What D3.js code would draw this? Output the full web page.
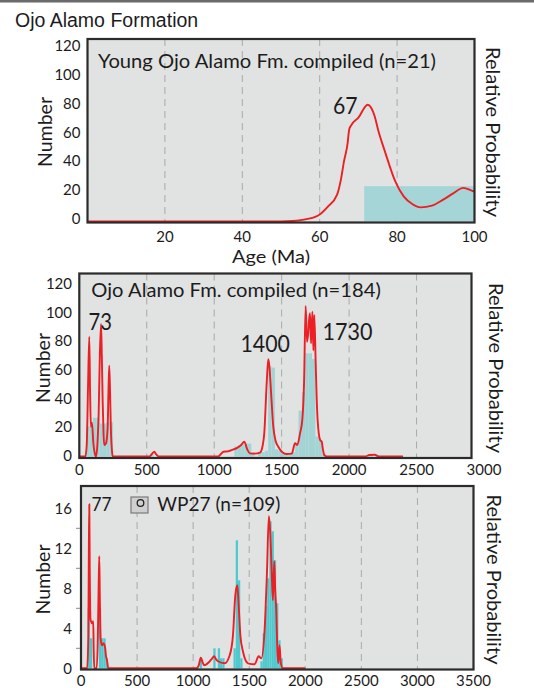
<!DOCTYPE html>
<html><head><meta charset="utf-8">
<script src="https://cdn.jsdelivr.net/npm/d3@7"></script>
<style>
body{margin:0;background:#fff}
svg{display:block}
text{font-family:Lato,"Open Sans",sans-serif;fill:#1c1c1c}
</style>
</head><body><svg id="c" width="534" height="688"></svg>
<script>
// ---------- DATA ----------
const mainTitle = "Ojo Alamo Formation";

// Panel 1: Young Ojo Alamo Fm. compiled (n=21)
const p1Title = "Young Ojo Alamo Fm. compiled (n=21)";
const p1XTicks = [20, 40, 60, 80, 100];
const p1YTicks = [0, 20, 40, 60, 80, 100, 120];
const p1Grid = [20, 40, 60, 80];
const p1CurveAge = [0, 50, 53, 56.6, 60, 62, 64.5, 65.4, 66.3, 67.2, 67.6, 68.0, 70, 72.4, 74.2, 75.1, 76.8, 79.5, 81.7, 84, 86.1, 89, 91.8, 94.5, 97.1, 99.7, 100];
const p1CurveVal = [0, 0, 0.3, 1.6, 4.9, 10, 18.6, 28, 42, 54, 63.5, 66.2, 72, 81, 73, 63.5, 49, 28, 17.4, 12, 9.8, 11, 15, 19.5, 23.3, 21, 20.8];
const p1BinStart = [71.5];
const p1BinEnd = [100];
const p1BinCount = [24.5];
const p1PeakLabel = "67";

// Panel 2: Ojo Alamo Fm. compiled (n=184)
const p2Title = "Ojo Alamo Fm. compiled (n=184)";
const p2XTicks = [0, 500, 1000, 1500, 2000, 2500, 3000];
const p2YTicks = [0, 20, 40, 60, 80, 100, 120];
const p2Grid = [500, 1000, 1500, 2000, 2500];
const p2CurveAge = [0, 45, 55, 65, 74, 80, 86, 94, 104, 115, 124, 134, 144, 152, 161, 167, 173, 180, 185, 198, 210, 216, 222, 228, 235, 242, 248, 520, 540, 556, 570, 590, 1030, 1043, 1068, 1100, 1130, 1170, 1200, 1223, 1245, 1265, 1300, 1340, 1360, 1371, 1389, 1401, 1410, 1419, 1438, 1455, 1475, 1505, 1537, 1575, 1599, 1616, 1636, 1653, 1666, 1678, 1688, 1697, 1704, 1710, 1718, 1728, 1735, 1742, 1753, 1760, 1767, 1785, 1797, 1806, 1816, 1834, 2120, 2150, 2190, 2220, 2400];
const p2CurveVal = [0, 0, 8, 50, 83.6, 45, 20.8, 23.6, 9.4, 2, 0, 8, 32, 70, 92.5, 70, 39.4, 15, 8, 9.2, 20, 45, 63.4, 45, 16, 4, 0, 0, 2, 3.3, 1.5, 0, 0, 1, 3.3, 3.6, 4.5, 6, 8, 10.3, 5, 2.2, 2, 2.7, 8, 16, 51, 67.8, 62, 48.7, 20.8, 11, 6.8, 3, 1.7, 2, 9.2, 8, 16, 25.5, 51, 105, 80, 86, 96, 100, 79, 101, 74, 98.7, 62.7, 40, 25, 11.5, 10.3, 5, 1, 0, 0, 1, 1.2, 0, 0];
const p2BinWidth = 25;
const p2BinStart = [50, 75, 100, 125, 150, 175, 200, 225, 525, 1150, 1175, 1200, 1225, 1250, 1275, 1325, 1350, 1375, 1400, 1425, 1450, 1475, 1500, 1525, 1550, 1575, 1600, 1625, 1650, 1675, 1700, 1725, 1750, 1775, 1800, 2150];
const p2BinCount = [21, 21, 27, 27, 23, 23, 24, 24, 2, 7, 8, 9, 9, 9, 3, 3, 3, 4, 63, 62, 5, 4, 2, 2, 2, 3, 8, 32, 45, 72, 72, 68, 14, 11, 2, 1];
const p2PeakLabels = ["73", "1400", "1730"];

// Panel 3: WP27 (n=109)
const p3Title = "WP27 (n=109)";
const p3XTicks = [0, 500, 1000, 1500, 2000, 2500, 3000, 3500];
const p3YTicks = [0, 4, 8, 12, 16];
const p3MinorTicks = [2, 6, 10, 14];
const p3Grid = [500, 1000, 1500, 2000, 2500, 3000];
const p3CurveAge = [0, 55, 65, 70, 74, 78, 84, 89, 100, 109, 113, 118, 140, 150, 157, 163, 168, 175, 187, 200, 210, 216, 222, 232, 243, 1029, 1050, 1068, 1085, 1097, 1140, 1170, 1186, 1205, 1222, 1281, 1326, 1355, 1376, 1394, 1406, 1421, 1444, 1489, 1548, 1584, 1608, 1637, 1658, 1675, 1688, 1699, 1711, 1723, 1732, 1741, 1750, 1759, 1770, 1782, 1800, 2000];
const p3CurveVal = [0, 0, 3, 12, 16.4, 10, 5, 4.7, 4.5, 4.7, 2, 0, 0, 3, 8, 11.2, 7, 3, 2.3, 2.5, 2.3, 2.0, 1.3, 0.8, 0, 0, 0.3, 1.06, 0.6, 0.3, 0.6, 1.0, 1.2, 0.9, 0.7, 0.5, 1.3, 3.3, 7.3, 8.3, 6.3, 3.3, 1.7, 0.5, 0.4, 1.2, 1.0, 3.8, 9.5, 15.2, 13.5, 10.2, 6.8, 10.7, 7.8, 5.8, 2.2, 0.5, 2.3, 0.5, 0, 0];
const p3BinWidth = 20;
const p3BinStart = [60, 80, 160, 180, 200, 220, 1060, 1180, 1220, 1240, 1260, 1360, 1380, 1400, 1420, 1600, 1620, 1640, 1660, 1680, 1700, 1720, 1740, 1760, 1780];
const p3BinCount = [6, 3, 6, 3, 3, 1, 1, 2, 2, 1, 1, 2, 12.8, 8.8, 1, 0.7, 3.5, 6.2, 9, 14.7, 13.7, 10.8, 6.5, 2.8, 1];
const p3PeakLabel = "77";

const yAxisTitle = "Number";
const rightAxisTitle = "Relative Probability";
const xAxisTitle1 = "Age (Ma)";

// ---------- DRAW ----------
const svg = d3.select("#c");
const RED = "#ec1f24", GRID = "#a9a9a9", PLOT_BG = "#e1e2e2", FRAME = "#2b2b2b";

svg.append("rect").attr("x", 0).attr("y", 0).attr("width", 534).attr("height", 2.5).attr("fill", "#6a6a6a");
svg.append("text").attr("x", 15).attr("y", 27).style("font-family", "'Liberation Sans',Arial,sans-serif")
  .style("font-size", "19.5px").text(mainTitle);

function drawPanel(cfg) {
  const g = svg.append("g");
  const x = d3.scaleLinear().domain(cfg.xDomain).range(cfg.xRange);
  const y = d3.scaleLinear().domain(cfg.yDomain).range(cfg.yRange);
  const [bl, bt, br, bb] = cfg.box;
  const clipId = "clip" + cfg.id;
  svg.append("defs").append("clipPath").attr("id", clipId)
    .append("rect").attr("x", bl).attr("y", bt).attr("width", br - bl).attr("height", bb - bt);

  g.append("rect").attr("x", bl).attr("y", bt).attr("width", br - bl).attr("height", bb - bt).attr("fill", PLOT_BG);

  const inner = g.append("g").attr("clip-path", `url(#${clipId})`);
  inner.selectAll("line.grid").data(cfg.grid).join("line")
    .attr("x1", d => x(d)).attr("x2", d => x(d)).attr("y1", bt).attr("y2", bb)
    .attr("stroke", GRID).attr("stroke-width", 1).attr("stroke-dasharray", "7,5");

  inner.selectAll("rect.bar").data(cfg.bins).join("rect")
    .attr("x", d => x(d.s)).attr("width", d => x(d.e) - x(d.s))
    .attr("y", d => y(d.c)).attr("height", d => y(0) - y(d.c))
    .attr("fill", cfg.barColor);

  const line = d3.line().x(d => x(d[0])).y(d => y(d[1])).curve(d3.curveMonotoneX);
  inner.append("path").datum(cfg.curve).attr("d", line)
    .attr("fill", "none").attr("stroke", RED).attr("stroke-width", 1.9).attr("stroke-linejoin", "round");

  g.append("rect").attr("x", bl).attr("y", bt).attr("width", br - bl).attr("height", bb - bt)
    .attr("fill", "none").attr("stroke", FRAME).attr("stroke-width", 2.2);

  g.selectAll("text.yt").data(cfg.yTicks).join("text")
    .attr("x", cfg.yLabelX).attr("y", d => y(d) + cfg.yLabelDy)
    .attr("text-anchor", "end").attr("dominant-baseline", "central")
    .style("font-size", "15px").text(d => d);
  g.selectAll("text.xt").data(cfg.xTicks).join("text")
    .attr("x", d => x(d)).attr("y", cfg.xLabelY)
    .attr("text-anchor", "middle").attr("dominant-baseline", "central")
    .style("font-size", "15px").text(d => d);

  if (cfg.minor) {
    g.selectAll("line.mt").data(cfg.minor).join("line")
      .attr("x1", bl - 5).attr("x2", bl - 1).attr("y1", d => y(d)).attr("y2", d => y(d))
      .attr("stroke", "#8a8a8a").attr("stroke-width", 1);
  }

  g.append("text").attr("transform", `translate(${cfg.numX},${cfg.midY}) rotate(-90)`)
    .attr("text-anchor", "middle").style("font-size", "19px")
    .attr("textLength", 70).attr("lengthAdjust", "spacingAndGlyphs").text(yAxisTitle);
  g.append("text").attr("transform", `translate(${cfg.relX},${cfg.midY}) rotate(90)`)
    .attr("text-anchor", "middle").style("font-size", "19px")
    .attr("textLength", 170).attr("lengthAdjust", "spacingAndGlyphs").text(rightAxisTitle);

  g.append("text").attr("x", cfg.title.x).attr("y", cfg.title.y).style("font-size", "19px")
    .attr("textLength", cfg.title.w).attr("lengthAdjust", "spacingAndGlyphs").text(cfg.title.t);

  cfg.peaks.forEach(p => {
    g.append("text").attr("x", p.x).attr("y", p.y).style("font-size", p.fs + "px")
      .attr("textLength", p.w).attr("lengthAdjust", "spacingAndGlyphs").text(p.t);
  });
  return {g, x, y};
}

const zipC = (a, v) => a.map((d, i) => [d, v[i]]);

// Panel 1
drawPanel({
  id: 1, box: [87.5, 39, 474.5, 222.5],
  xDomain: [0, 100], xRange: [87.5, 474.5],
  yDomain: [0, 120], yRange: [221.5, 48.5],
  grid: p1Grid,
  bins: p1BinStart.map((s, i) => ({s, e: p1BinEnd[i], c: p1BinCount[i]})),
  barColor: "#a5d5d6",
  curve: zipC(p1CurveAge, p1CurveVal),
  yTicks: p1YTicks, xTicks: p1XTicks,
  yLabelX: 80.5, yLabelDy: -3.5, xLabelY: 236,
  numX: 52, relX: 486, midY: 132,
  title: {t: p1Title, x: 98, y: 68, w: 338},
  peaks: [{t: p1PeakLabel, x: 333, y: 114, fs: 24, w: 24.6}]
});
svg.append("text").attr("x", 271).attr("y", 263).attr("text-anchor", "middle")
  .style("font-size", "18px").attr("textLength", 78).attr("lengthAdjust", "spacingAndGlyphs").text(xAxisTitle1);

// Panel 2
drawPanel({
  id: 2, box: [79.3, 273.5, 471.5, 458],
  xDomain: [0, 3000], xRange: [79.3, 484],
  yDomain: [0, 120], yRange: [456.5, 284.5],
  grid: p2Grid,
  bins: p2BinStart.map((s, i) => ({s, e: s + p2BinWidth, c: p2BinCount[i]})),
  barColor: "#a3d4d5",
  curve: zipC(p2CurveAge, p2CurveVal),
  yTicks: p2YTicks, xTicks: p2XTicks,
  yLabelX: 72, yLabelDy: -1.5, xLabelY: 469,
  numX: 49.5, relX: 489, midY: 368,
  title: {t: p2Title, x: 91.3, y: 296.6, w: 289.5},
  peaks: [
    {t: p2PeakLabels[0], x: 88.5, y: 329.5, fs: 23, w: 23.4},
    {t: p2PeakLabels[1], x: 240.5, y: 352, fs: 24, w: 49.5},
    {t: p2PeakLabels[2], x: 322.5, y: 339.5, fs: 24, w: 50}
  ]
});

// Panel 3
const r3 = drawPanel({
  id: 3, box: [81, 486, 473.5, 669.5],
  xDomain: [0, 3500], xRange: [81, 473.5],
  yDomain: [0, 16], yRange: [668.3, 508.3],
  grid: p3Grid,
  bins: p3BinStart.map((s, i) => ({s, e: s + p3BinWidth, c: p3BinCount[i]})),
  barColor: "#4fc9cd",
  curve: zipC(p3CurveAge, p3CurveVal),
  yTicks: p3YTicks, xTicks: p3XTicks, minor: p3MinorTicks,
  yLabelX: 72, yLabelDy: 0, xLabelY: 680,
  numX: 49.5, relX: 487, midY: 579.5,
  title: {t: p3Title, x: 157.3, y: 511, w: 123},
  peaks: [{t: p3PeakLabel, x: 91.5, y: 510.5, fs: 20, w: 20}]
});
r3.g.append("rect").attr("x", 131).attr("y", 497).attr("width", 17).attr("height", 16)
  .attr("fill", "#cfcfcf").attr("stroke", "#7a7a7a").attr("stroke-width", 1.2);
r3.g.append("circle").attr("cx", 140.5).attr("cy", 503).attr("r", 3.3)
  .attr("fill", "none").attr("stroke", "#222").attr("stroke-width", 1.3);
</script></body></html>
